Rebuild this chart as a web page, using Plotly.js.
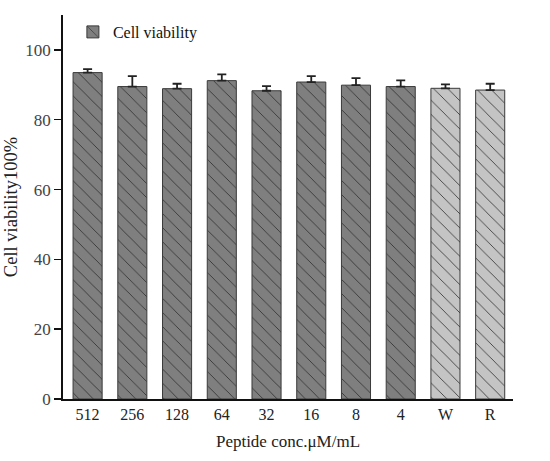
<!DOCTYPE html>
<html>
<head>
<meta charset="utf-8">
<script src="https://cdn.plot.ly/plotly-3.0.1.min.js"></script>
<style>html,body{margin:0;padding:0;background:#fff;}#chart{width:550px;height:461px;}</style>
</head>
<body>
<div id="chart"></div>
<script>
var categories = ["512", "256", "128", "64", "32", "16", "8", "4", "W", "R"];
var viability = [93.5, 89.5, 88.9, 91.2, 88.3, 90.8, 89.9, 89.5, 89.0, 88.5];
var errorUp = [1.0, 3.0, 1.4, 1.8, 1.3, 1.7, 2.0, 1.8, 1.1, 1.8];
var groupColor = ["#7f7f7f", "#7f7f7f", "#7f7f7f", "#7f7f7f", "#7f7f7f", "#7f7f7f", "#7f7f7f", "#7f7f7f", "#c4c4c4", "#c4c4c4"];
var yTicks = [0, 20, 40, 60, 80, 100];

var serif = "Liberation Serif, Times New Roman, serif";

var trace = {
  type: "bar",
  name: "Cell viability",
  x: categories,
  y: viability,
  width: 0.65,
  marker: {
    color: "#7f7f7f",
    line: {color: "#3a3a3a", width: 1},
    pattern: {shape: "\\", fillmode: "overlay", bgcolor: groupColor, fgcolor: "#2e2e2e", fgopacity: 1, size: 10, solidity: 0.08}
  },
  error_y: {
    type: "data",
    symmetric: false,
    array: errorUp,
    arrayminus: errorUp.map(function(){return 0;}),
    color: "#222222",
    thickness: 1.8,
    width: 4.5
  }
};

var layout = {
  width: 550,
  height: 461,
  margin: {l: 63, r: 37, t: 15, b: 62},
  paper_bgcolor: "#ffffff",
  plot_bgcolor: "#ffffff",
  font: {family: serif, color: "#222222"},
  showlegend: true,
  legend: {
    x: 0.022, y: 1.0, xanchor: "left", yanchor: "top",
    bgcolor: "rgba(0,0,0,0)",
    font: {family: serif, size: 16, color: "#111111"}
  },
  xaxis: {
    type: "category",
    range: [-0.55, 9.51],
    showline: true,
    linecolor: "#111111",
    linewidth: 1.8,
    ticks: "",
    showgrid: false,
    zeroline: false,
    tickfont: {family: serif, size: 16, color: "#222222"},
    title: {text: "Peptide conc.μM/mL", font: {family: serif, size: 17, color: "#222222"}, standoff: 13}
  },
  yaxis: {
    range: [0, 110],
    tickvals: yTicks,
    ticktext: yTicks.map(String),
    showline: true,
    linecolor: "#111111",
    linewidth: 1.8,
    ticks: "outside",
    ticklen: 7,
    tickwidth: 1.5,
    tickcolor: "#111111",
    showgrid: false,
    zeroline: false,
    tickfont: {family: serif, size: 17, color: "#444444"},
    title: {text: "Cell viability100%", font: {family: serif, size: 18.5, color: "#222222"}, standoff: 3}
  }
};

Plotly.newPlot("chart", [trace], layout, {displayModeBar: false, staticPlot: true});
</script>
</body>
</html>
